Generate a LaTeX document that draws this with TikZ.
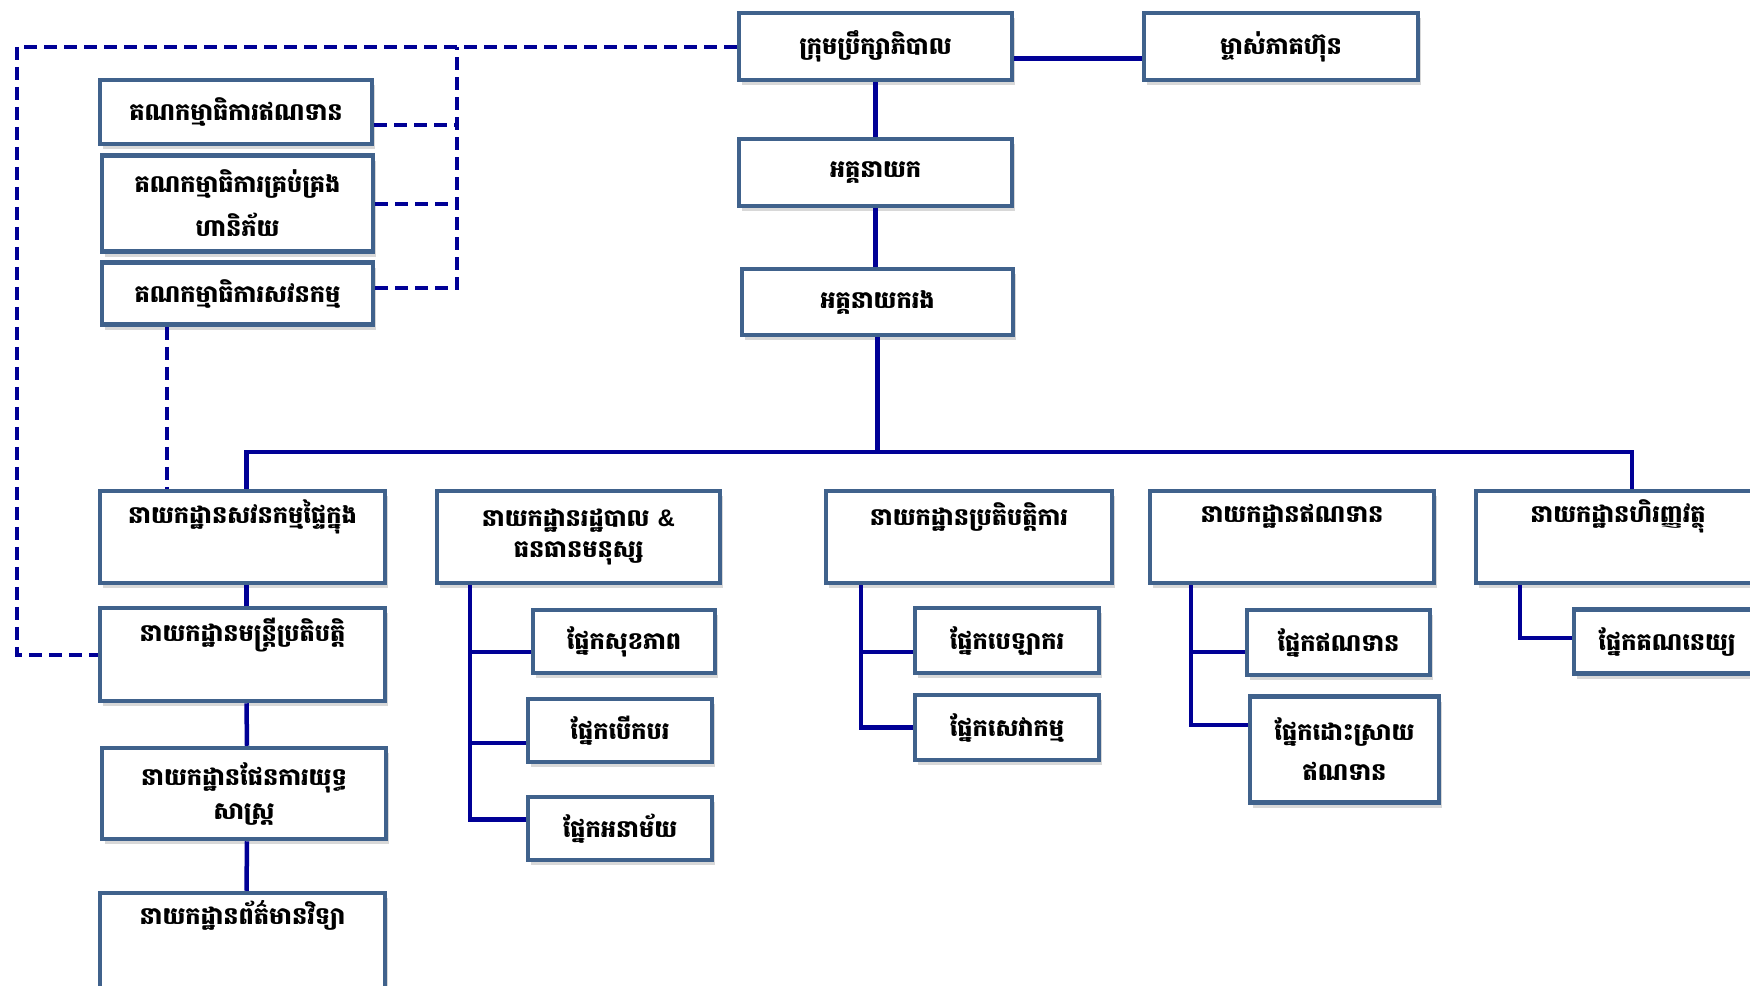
\documentclass[tikz,border=0pt]{standalone}
\usepackage{fontspec}
\newfontfamily\khmer[Script=Khmer]{Battambang}
\newfontfamily\latinf{Liberation Sans}
\usetikzlibrary{shadows,calc}
\definecolor{bordc}{HTML}{40628C}
\definecolor{linec}{HTML}{000096}
\tikzset{
  box/.style={draw=bordc, line width=4.5pt, fill=white, inner sep=0pt, align=center,
    drop shadow={opacity=0.3, shadow xshift=3pt, shadow yshift=-5pt},
    font=\khmer\bfseries\fontsize{24}{34}\selectfont},
  txt/.style={inner sep=0pt, align=center, font=\khmer\bfseries\fontsize{24}{31}\selectfont},
  conn/.style={draw=linec, line width=4.5pt},
  dconn/.style={draw=linec, line width=4pt, dash pattern=on 13pt off 7pt},
}
\begin{document}
\begin{tikzpicture}[x=1pt,y=-1pt]
\clip (0,0) rectangle (1750,985);
\fill[white] (0,0) rectangle (1750,985);

\coordinate (dl) at (17,0);
\coordinate (dv) at (457,0);
\coordinate (da) at (167,0);

% top
\node[box, minimum width=273pt, minimum height=67pt] (board) at (875.5,46.5) {ក្រុមប្រឹក្សាភិបាល};
\node[box, minimum width=274pt, minimum height=67pt] (share) at (1281,46.5) {ម្ចាស់ភាគហ៊ុន};
\node[box, minimum width=273pt, minimum height=67pt] (ceo) at (875.5,172.5) {អគ្គនាយក};
\node[box, minimum width=271pt, minimum height=66pt] (dep) at (877.5,302) {អគ្គនាយករង};

% committees
\node[box, minimum width=272pt, minimum height=64pt] (com1) at (236,112) {គណកម្មាធិការឥណទាន};
\node[box, minimum width=271pt, minimum height=96pt, font=\khmer\bfseries\fontsize{24}{44}\selectfont] (com2) at (237.5,203.5) {គណកម្មាធិការគ្រប់គ្រង\\ហានិភ័យ};
\node[box, minimum width=271pt, minimum height=62pt] (com3) at (237.5,293.5) {គណកម្មាធិការសវនកម្ម};

% departments
\node[box, minimum width=285pt, minimum height=92pt] (d1) at (242.5,537) {};
\node[txt] (t1) at ($(d1.north)+(0,28)$) {នាយកដ្ឋានសវនកម្មផ្ទៃក្នុង};
\node[box, minimum width=283pt, minimum height=92pt, font=\khmer\bfseries\fontsize{24}{31}\selectfont] (d2) at (578.5,537) {នាយកដ្ឋានរដ្ឋបាល {\latinf\bfseries\&}\\ធនធានមនុស្ស};
\node[box, minimum width=286pt, minimum height=92pt] (d3) at (969,537) {};
\node[txt] (t3) at ($(d3.north)+(0,28)$) {នាយកដ្ឋានប្រតិបត្តិការ};
\node[box, minimum width=284pt, minimum height=92pt] (d4) at (1292,537) {};
\node[txt] (t4) at ($(d4.north)+(0,28)$) {នាយកដ្ឋានឥណទាន};
\node[box, minimum width=284pt, minimum height=92pt] (d5) at (1618,537) {};
\node[txt] (t5) at ($(d5.north)+(0,28)$) {នាយកដ្ឋានហិរញ្ញវត្ថុ};

% left column
\node[box, minimum width=285pt, minimum height=93pt] (l2) at (242.5,654.5) {};
\node[txt] (tl2) at ($(l2.north)+(0,29)$) {នាយកដ្ឋានមន្ត្រីប្រតិបត្តិ};
\node[box, minimum width=284pt, minimum height=91pt, font=\khmer\bfseries\fontsize{24}{34}\selectfont] (l3) at (244,793.5) {នាយកដ្ឋានផែនការយុទ្ធ\\សាស្ត្រ};
\node[box, minimum width=285pt, minimum height=97pt] (l4) at (242.5,941.5) {};
\node[txt] (tl4) at ($(l4.north)+(0,25)$) {នាយកដ្ឋានព័ត៌មានវិទ្យា};

% admin sections
\node[box, minimum width=182pt, minimum height=63pt] (a1) at (624,641.5) {ផ្នែកសុខភាព};
\node[box, minimum width=184pt, minimum height=63pt] (a2) at (620,730.5) {ផ្នែកបើកបរ};
\node[box, minimum width=184pt, minimum height=63pt] (a3) at (620,828.5) {ផ្នែកអនាម័យ};
% ops sections
\node[box, minimum width=184pt, minimum height=65pt] (o1) at (1007,640.5) {ផ្នែកបេឡាករ};
\node[box, minimum width=184pt, minimum height=65pt] (o2) at (1007,727.5) {ផ្នែកសេវាកម្ម};
% credit sections
\node[box, minimum width=183pt, minimum height=65pt] (c1) at (1338.5,642.5) {ផ្នែកឥណទាន};
\node[box, minimum width=189pt, minimum height=106pt, font=\khmer\bfseries\fontsize{24}{40}\selectfont] (c2) at (1344.5,749.5) {ផ្នែកដោះស្រាយ\\ឥណទាន};
% finance sections
\node[box, minimum width=186pt, minimum height=64pt] (f1) at (1667,641.5) {ផ្នែកគណនេយ្យ};

% solid connectors
\draw[conn] (board.south) -- (ceo.north);
\draw[conn] (ceo.south) -- (ceo.south |- dep.north);
\draw[conn] ($(board.east)+(0,12)$) -- ($(share.west)+(0,12)$);
\coordinate (bus) at (878,452);
\draw[conn] (dep.south) -- (dep.south |- bus);
\draw[conn] ($(d1.north)+(4,0)$) |- (bus) -| ($(d5.north)+(14,0)$);
\draw[conn] ($(d1.south)+(4,0)$) -- ($(l2.north)+(4,0)$);
\draw[conn] ($(l2.south)+(4,0)$) -- ($(l3.north)+(3,0)$);
\draw[conn] ($(l3.south)+(3,0)$) -- ($(l4.north)+(4,0)$);
% admin
\coordinate (av) at ($(d2.south west)+(35,0)$);
\draw[conn] (av) |- ($(a3.west)+(0,-9)$);
\draw[conn] (av |- 0,652) -- (a1.west |- 0,652);
\draw[conn] (av |- 0,743) -- (a2.west |- 0,743);
% ops
\coordinate (ov) at ($(d3.south west)+(37,0)$);
\draw[conn] (ov) |- (o2.west);
\draw[conn] (ov |- 0,652) -- (o1.west |- 0,652);
% credit
\coordinate (cv) at ($(d4.south west)+(43,0)$);
\draw[conn] (cv) |- (c2.west |- 0,725);
\draw[conn] (cv |- 0,652) -- (c1.west |- 0,652);
% finance
\coordinate (fv) at ($(d5.south west)+(46,0)$);
\draw[conn] (fv) |- (f1.west |- 0,638);

% dashed connectors
\draw[dconn] (board.west) -| (dl |- l2.west) -- (l2.west);
\draw[dconn] (com3.east |- 0,288) -| (dv |- board.west);
\draw[dconn] (com1.east |- 0,125) -- (dv |- 0,125);
\draw[dconn] (com2.east) -- (dv |- com2.east);
\draw[dconn] (da |- com3.south) -- (da |- d1.north);
\end{tikzpicture}
\end{document}
